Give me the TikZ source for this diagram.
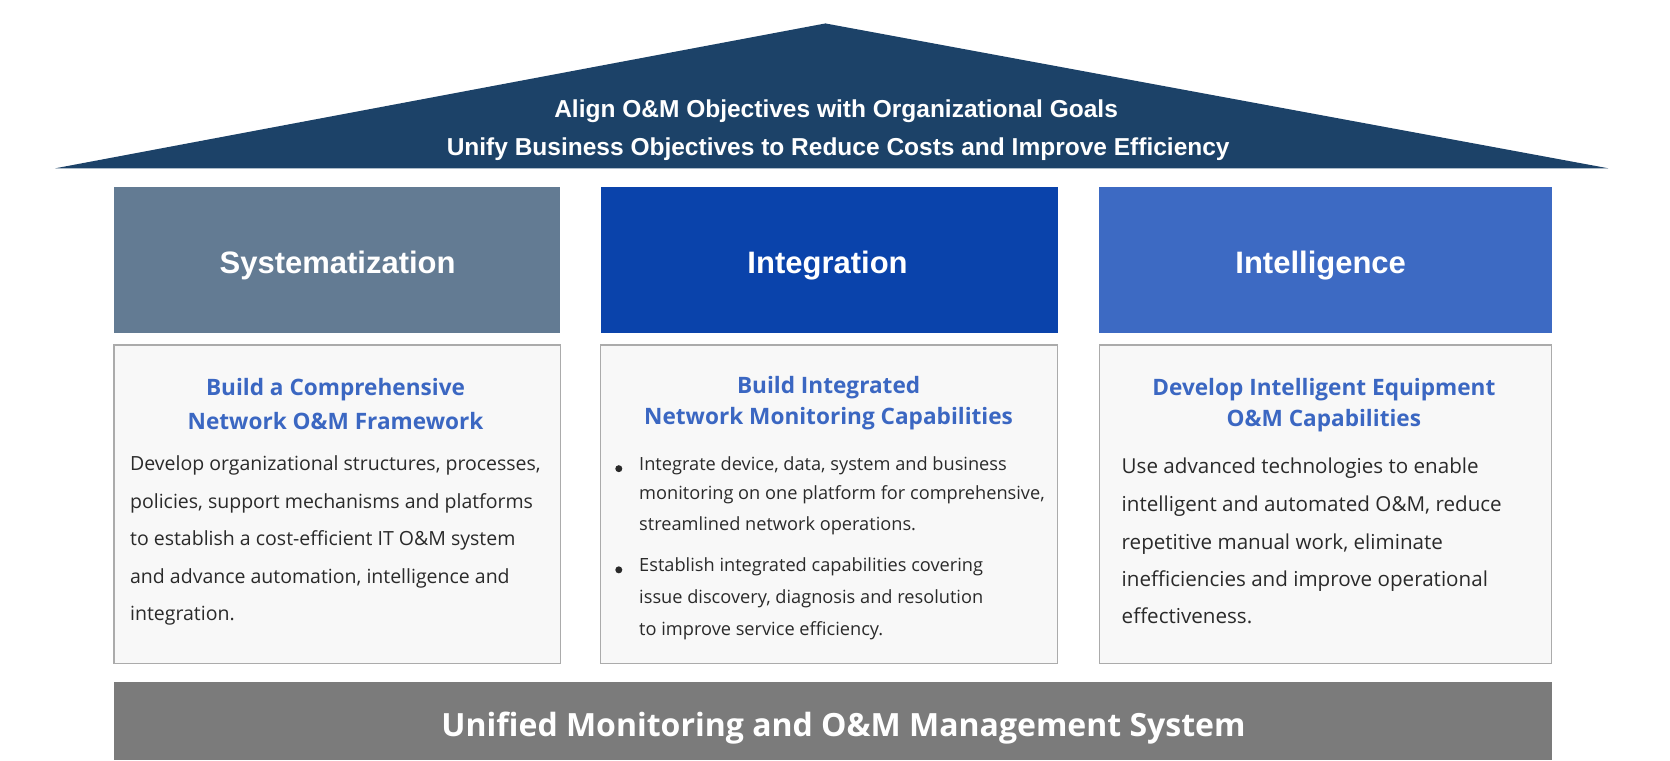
\documentclass[tikz,border=0pt]{standalone}
\usepackage{fontspec}
\setmainfont{Open Sans}
\newfontfamily\roofface{Liberation Sans}
\newfontfamily\bodyface{Open Sans}
\definecolor{roofc}{HTML}{1C4268}
\definecolor{sysc}{HTML}{637B93}
\definecolor{integc}{HTML}{0A43AB}
\definecolor{intelc}{HTML}{3D6AC3}
\definecolor{titlec}{HTML}{3B67C2}
\definecolor{bodyc}{HTML}{2A2A2A}
\definecolor{borderc}{HTML}{ABABAB}
\definecolor{boxc}{HTML}{F8F8F8}
\definecolor{basec}{HTML}{7B7B7B}
\begin{document}
\begin{tikzpicture}[x=1.065pt,y=-1.065pt,
  rooftext/.style={text=white,font=\roofface\bfseries\fontsize{24.5}{24.5}\selectfont,inner sep=0},
  headtext/.style={text=white,font=\roofface\bfseries\fontsize{31}{31}\selectfont,inner sep=0},
  titletext/.style={text=titlec,font=\bodyface\bfseries\fontsize{22.6}{22.6}\selectfont,inner sep=0},
  bodytext/.style={text=bodyc,inner sep=0,anchor=mid west},
  bodyL/.style={bodytext,font=\bodyface\fontsize{19.5}{19.5}\selectfont},
  bodyM/.style={bodytext,font=\bodyface\fontsize{18.2}{18.2}\selectfont},
  bodyR/.style={bodytext,font=\bodyface\fontsize{20.6}{20.6}\selectfont},
  contentbox/.style={draw=borderc,line width=1.2pt,fill=boxc},
  bulletdot/.style={circle,fill=bodyc,inner sep=0,minimum size=7pt}]
\useasboundingbox (0,0) rectangle (1568,713.6);
\fill[white] (0,0) rectangle (1568,713.6);
% roof
\fill[roofc] (52,158) -- (775,22) -- (1510,158) -- cycle;
% headers
\fill[sysc] (107,176) rectangle (526,313);
\fill[integc] (564,176) rectangle (993,313);
\fill[intelc] (1032,176) rectangle (1457,313);
% content boxes
\draw[contentbox] (107,324) rectangle (526,623);
\draw[contentbox] (564,324) rectangle (993,623);
\draw[contentbox] (1032,324) rectangle (1457,623);
% base
\fill[basec] (107,640) rectangle (1457,713.6);
\begin{scope}[yshift=-4.3pt]
\node[rooftext] (r1) at (785,100) {Align O\&M Objectives with Organizational Goals};
\node[rooftext] (r2) at (787,136) {Unify Business Objectives to Reduce Costs and Improve Efficiency};
\node[headtext] (h1) at (317,245) {Systematization};
\node[headtext] (h2) at (777,245) {Integration};
\node[headtext] (h3) at (1240,245) {Intelligence};
% left
\node[titletext] (t1a) at (315,362) {Build a Comprehensive};
\node[titletext] (t1b) at (315,391) {Network O\&M Framework};
\node[bodyL] (b1a) at (122,435) {Develop organizational structures, processes,};
\node[bodyL] (b1b) at (122,471) {policies, support mechanisms and platforms};
\node[bodyL] (b1c) at (122,506) {to establish a cost-efficient IT O\&M system};
\node[bodyL] (b1d) at (122,541) {and advance automation, intelligence and};
\node[bodyL] (b1e) at (122,576) {integration.};
% middle
\node[titletext] (t2a) at (778,360) {Build Integrated};
\node[titletext] (t2b) at (778,389) {Network Monitoring Capabilities};
\node[bulletdot] (d1) at (581,436) {};
\node[bodyM] (b2a) at (600,435) {Integrate device, data, system and business};
\node[bodyM] (b2b) at (600,462) {monitoring on one platform for comprehensive,};
\node[bodyM] (b2c) at (600,492) {streamlined network operations.};
\node[bulletdot] (d2) at (581,531) {};
\node[bodyM] (b2d) at (600,530) {Establish integrated capabilities covering};
\node[bodyM] (b2e) at (600,560) {issue discovery, diagnosis and resolution};
\node[bodyM] (b2f) at (600,590) {to improve service efficiency.};
% right
\node[titletext] (t3a) at (1243,362) {Develop Intelligent Equipment};
\node[titletext] (t3b) at (1243,391) {O\&M Capabilities};
\node[bodyR] (b3a) at (1053,438) {Use advanced technologies to enable};
\node[bodyR] (b3b) at (1053,474) {intelligent and automated O\&M, reduce};
\node[bodyR] (b3c) at (1053,509) {repetitive manual work, eliminate};
\node[bodyR] (b3d) at (1053,544) {inefficiencies and improve operational};
\node[bodyR] (b3e) at (1053,579) {effectiveness.};
\node[text=white,font=\bodyface\bfseries\fontsize{32}{32}\selectfont,inner sep=0] (base) at (792,680) {Unified Monitoring and O\&M Management System};
\end{scope}
\end{tikzpicture}
\end{document}
